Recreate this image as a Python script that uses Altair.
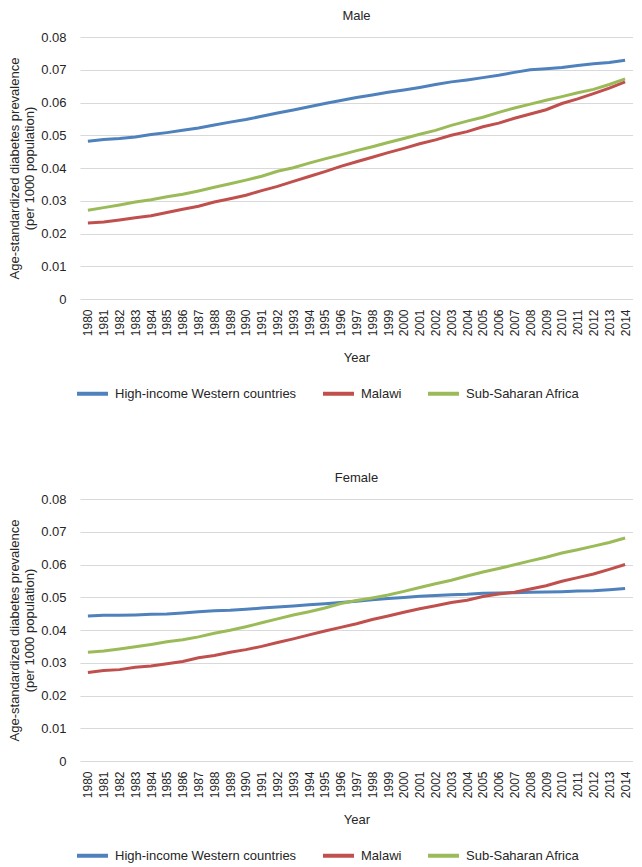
import altair as alt
import pandas as pd

years = list(range(1980, 2015))

series_names = ["High-income Western countries", "Malawi", "Sub-Saharan Africa"]
series_colors = ["#4F81BD", "#C0504D", "#9BBB59"]

male_high = [0.0482, 0.0487, 0.0490, 0.0495, 0.0502, 0.0508, 0.0515, 0.0522, 0.0531, 0.0540,
             0.0548, 0.0558, 0.0568, 0.0577, 0.0587, 0.0597, 0.0606, 0.0615, 0.0623, 0.0631,
             0.0638, 0.0646, 0.0655, 0.0663, 0.0669, 0.0676, 0.0683, 0.0692, 0.0700, 0.0703,
             0.0707, 0.0713, 0.0718, 0.0722, 0.0729]
male_malawi = [0.0232, 0.0235, 0.0241, 0.0248, 0.0254, 0.0264, 0.0274, 0.0283, 0.0296, 0.0306,
               0.0317, 0.0331, 0.0344, 0.0359, 0.0374, 0.0389, 0.0405, 0.0419, 0.0433, 0.0447,
               0.0460, 0.0474, 0.0486, 0.0500, 0.0511, 0.0526, 0.0537, 0.0552, 0.0565, 0.0578,
               0.0597, 0.0611, 0.0627, 0.0644, 0.0663]
male_ssa = [0.0271, 0.0279, 0.0287, 0.0296, 0.0303, 0.0312, 0.0320, 0.0330, 0.0341, 0.0352,
            0.0363, 0.0375, 0.0390, 0.0401, 0.0415, 0.0428, 0.0440, 0.0453, 0.0465, 0.0478,
            0.0490, 0.0503, 0.0515, 0.0530, 0.0543, 0.0555, 0.0570, 0.0583, 0.0595, 0.0607,
            0.0618, 0.0630, 0.0640, 0.0655, 0.0672]

female_high = [0.0443, 0.0445, 0.0445, 0.0446, 0.0448, 0.0449, 0.0452, 0.0456, 0.0459, 0.0460,
               0.0463, 0.0467, 0.0470, 0.0473, 0.0477, 0.0480, 0.0484, 0.0488, 0.0492, 0.0496,
               0.0499, 0.0503, 0.0505, 0.0508, 0.0509, 0.0512, 0.0513, 0.0514, 0.0515, 0.0516,
               0.0517, 0.0519, 0.0520, 0.0523, 0.0527]
female_malawi = [0.0270, 0.0276, 0.0279, 0.0286, 0.0290, 0.0297, 0.0304, 0.0315, 0.0322, 0.0332,
                 0.0340, 0.0350, 0.0362, 0.0373, 0.0385, 0.0397, 0.0408, 0.0419, 0.0432, 0.0443,
                 0.0454, 0.0465, 0.0474, 0.0484, 0.0491, 0.0502, 0.0510, 0.0515, 0.0525, 0.0535,
                 0.0549, 0.0560, 0.0571, 0.0585, 0.0600]
female_ssa = [0.0332, 0.0336, 0.0342, 0.0349, 0.0356, 0.0364, 0.0370, 0.0379, 0.0390, 0.0399,
              0.0410, 0.0422, 0.0434, 0.0446, 0.0456, 0.0467, 0.0481, 0.0490, 0.0498, 0.0507,
              0.0518, 0.0530, 0.0541, 0.0552, 0.0565, 0.0577, 0.0588, 0.0599, 0.0611, 0.0622,
              0.0635, 0.0645, 0.0656, 0.0667, 0.0681]

y_ticks = [0, 0.01, 0.02, 0.03, 0.04, 0.05, 0.06, 0.07, 0.08]

FONT = "Liberation Sans"
TXT = "#262626"


def make_df(series_list):
    rows = []
    for name, vals in zip(series_names, series_list):
        for yr, v in zip(years, vals):
            rows.append({"Year": str(yr), "Series": name, "Value": v})
    return pd.DataFrame(rows)


def panel(title, series_list):
    df = make_df(series_list)
    return alt.Chart(df).mark_line(strokeWidth=3).encode(
        x=alt.X("Year:O", sort=[str(y) for y in years],
                scale=alt.Scale(padding=0.5),
                axis=alt.Axis(title="Year", labelAngle=-90, labelAlign="right",
                              labelBaseline="middle", labelPadding=10,
                              ticks=False, domain=False, grid=False,
                              labelFont=FONT, labelFontSize=12, labelColor=TXT,
                              titleFont=FONT, titleFontSize=13, titleColor=TXT,
                              titleFontWeight="normal", titlePadding=16)),
        y=alt.Y("Value:Q", scale=alt.Scale(domain=[0, 0.08], nice=False),
                axis=alt.Axis(title=["Age-standardized diabetes prevalence",
                                     "(per 1000 population)"],
                              values=y_ticks, format="~g",
                              ticks=False, domain=False, grid=True,
                              gridColor="#d9d9d9", gridWidth=1.2,
                              labelFont=FONT, labelFontSize=13, labelColor=TXT,
                              labelPadding=14,
                              titleFont=FONT, titleFontSize=13, titleColor=TXT,
                              titleFontWeight="normal", titlePadding=4,
                              titleLineHeight=15)),
        color=alt.Color("Series:N", sort=series_names,
                        scale=alt.Scale(domain=series_names, range=series_colors),
                        legend=alt.Legend(title=None, orient="none", direction="horizontal",
                                          legendX=-5, legendY=339, labelLimit=0,
                                          symbolType="stroke", symbolStrokeWidth=4,
                                          symbolSize=961, columnPadding=18,
                                          labelFont=FONT, labelFontSize=13,
                                          labelColor=TXT, labelOffset=5)),
    ).properties(
        width=553, height=262,
        title=alt.TitleParams(title, font=FONT, fontSize=13, fontWeight="normal",
                              color=TXT, offset=8),
    )


chart = alt.vconcat(
    panel("Male", [male_high, male_malawi, male_ssa]),
    panel("Female", [female_high, female_malawi, female_ssa]),
    spacing=70,
).resolve_scale(color="independent").properties(
    padding={"left": 0, "top": 2, "right": 0, "bottom": 0}
).configure_view(stroke=None)

chart.save("out.html", embed_options={"renderer": "svg", "actions": False})
